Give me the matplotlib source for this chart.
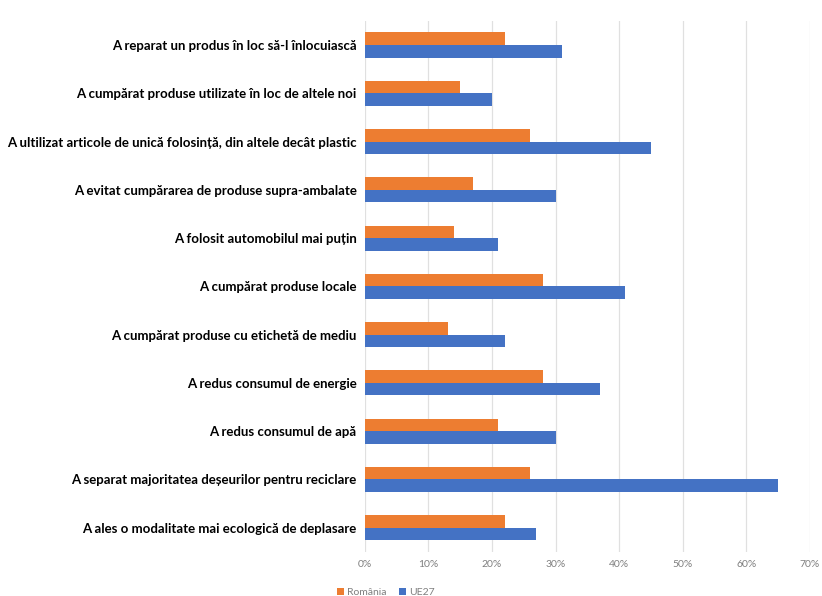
import numpy as np
import matplotlib.pyplot as plt

categories = [
    "A reparat un produs în loc să-l înlocuiască",
    "A cumpărat produse utilizate în loc de altele noi",
    "A ultilizat articole de unică folosință, din altele decât plastic",
    "A evitat cumpărarea de produse supra-ambalate",
    "A folosit automobilul mai puțin",
    "A cumpărat produse locale",
    "A cumpărat produse cu etichetă de mediu",
    "A redus consumul de energie",
    "A redus consumul de apă",
    "A separat majoritatea deșeurilor pentru reciclare",
    "A ales o modalitate mai ecologică de deplasare",
]
romania = [22, 15, 26, 17, 14, 28, 13, 28, 21, 26, 22]
ue27 = [31, 20, 45, 30, 21, 41, 22, 37, 30, 65, 27]
series_names = ["România", "UE27"]

plt.rcParams['font.family'] = ['Lato', 'DejaVu Sans']

fig = plt.figure(figsize=(8.22, 5.96), dpi=100)
ax = fig.add_axes([0.444, 0.074, 0.541, 0.891])

y = np.arange(len(categories))
h = 0.26
ax.barh(y - h / 2, romania, height=h, color='#ED7D31', label=series_names[0], zorder=3)
ax.barh(y + h / 2, ue27, height=h, color='#4472C4', label=series_names[1], zorder=3)

ax.set_ylim(len(categories) - 0.5, -0.5)
ax.set_xlim(0, 70)
ax.set_xticks(np.arange(0, 71, 10))
ax.set_xticklabels([f"{v}%" for v in range(0, 71, 10)], color='#7f7f7f', fontsize=7.5)
ax.set_yticks(y)
ax.set_yticklabels(categories, fontsize=9.5, fontweight='bold', color='black')
ax.tick_params(axis='both', length=0, pad=6)
ax.grid(axis='x', color='#e0e0e0', linewidth=0.9, zorder=0)
for s in ax.spines.values():
    s.set_visible(False)

ax.legend(loc='upper left', bbox_to_anchor=(-0.085, -0.05), ncol=2, frameon=False,
          fontsize=7.5, labelcolor='#7f7f7f', handlelength=0.7, handleheight=0.7,
          handletextpad=0.3, columnspacing=1.2)

fig.savefig('out.png', dpi=100)
